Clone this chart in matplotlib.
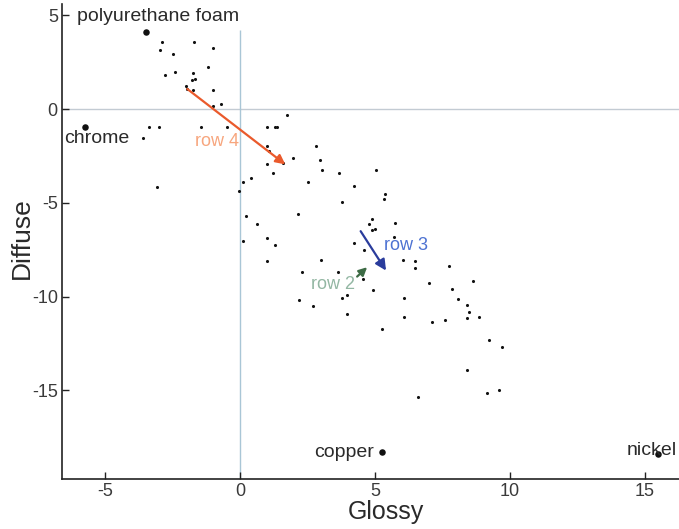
import matplotlib
matplotlib.use("Agg")
import matplotlib.pyplot as plt

plt.rcParams['font.family'] = ['Liberation Sans', 'DejaVu Sans']

# small sample points (Glossy, Diffuse)
glossy = [-2.89, -2.96, -2.49, -1.71, -0.99, -1.20, -2.78, -2.42, -1.73, -1.65,
          -1.79, -2.01, -1.95, -1.75, -0.99, -0.99, -0.69, 1.73, -3.36, -3.01,
          -1.44, -0.47, 0.99, 1.31, 1.39, -3.60, 0.99, 1.06, 2.81, 1.95,
          2.96, 3.05, 3.68, 0.99, 1.58, 1.21, -3.09, 0.10, 0.42, -0.05,
          2.52, 2.15, 0.21, 0.63, 0.10, 0.99, 1.31, 5.04, 4.23, 3.77,
          5.38, 5.33, 0.99, 4.90, 4.79, 4.88, 5.00, 5.74, 5.69, 4.21,
          4.59, 6.04, 6.47, 6.47, 7.73, 8.64, 7.00, 7.85, 8.07, 8.40,
          8.48, 8.42, 8.84, 7.58, 7.12, 6.07, 6.09, 4.93, 4.57, 3.97,
          3.78, 3.01, 3.63, 2.30, 2.19, 2.69, 3.96, 5.26, 9.23, 9.70,
          8.41, 9.15, 9.59, 6.58]
diffuse = [3.55, 3.16, 2.91, 3.59, 3.23, 2.24, 1.81, 1.95, 1.92, 1.62,
           1.53, 1.24, 1.07, 1.03, 1.03, 0.18, 0.25, -0.34, -0.98, -0.98,
           -0.98, -0.98, -0.98, -0.98, -0.98, -1.55, -1.99, -2.26, -1.97, -2.61,
           -2.72, -3.27, -3.43, -2.92, -2.88, -3.43, -4.16, -3.91, -3.70, -4.39,
           -3.88, -5.60, -5.69, -6.12, -7.01, -6.90, -7.22, -3.27, -4.11, -4.98,
           -4.55, -4.78, -8.11, -5.85, -6.13, -6.45, -6.40, -6.10, -6.83, -7.13,
           -7.50, -8.05, -8.09, -8.45, -8.36, -9.19, -9.25, -9.60, -10.12, -10.47,
           -10.83, -11.15, -11.11, -11.25, -11.33, -11.11, -10.05, -9.62, -9.05, -9.92,
           -10.05, -8.07, -8.68, -8.68, -10.17, -10.49, -10.95, -11.72, -12.30, -12.69,
           -13.89, -15.11, -14.95, -15.34]

# named materials
materials = ["polyurethane foam", "chrome", "copper", "nickel"]
mat_glossy = [-3.49, -5.75, 5.27, 15.49]
mat_diffuse = [4.11, -0.94, -18.29, -18.38]

# arrows: (name, start glossy, start diffuse, end glossy, end diffuse)
arrow_names = ["row 4", "row 3", "row 2"]
arrow_x0 = [-1.95, 4.47, 4.34]
arrow_y0 = [1.07, -6.51, -8.93]
arrow_x1 = [1.68, 5.41, 4.71]
arrow_y1 = [-2.95, -8.61, -8.43]

x_ticks = [-5, 0, 5, 10, 15]
y_ticks = [5, 0, -5, -10, -15]

fig = plt.figure(figsize=(6.79, 5.29), dpi=100)
ax = fig.add_axes([62/679, 50/529, 1 - 62/679, 1 - 50/529 - 4/529])
ax.set_xlim(-6.59, 16.26)
ax.set_ylim(-19.72, 5.6)

# reference lines
ax.axhline(0, color='#c3cbd3', lw=1.0, zorder=1)
ax.vlines(0, -19.72, 4.23, color='#a9c6d6', lw=1.0, zorder=1)

ax.scatter(glossy, diffuse, s=5, color='#111111', zorder=3, linewidths=0)
ax.scatter(mat_glossy, mat_diffuse, s=22, color='#111111', zorder=3, linewidths=0)

lab_kw = dict(fontsize=14, color='#2a2a2a')
ax.text(-6.04, 4.94, materials[0], ha='left', va='center', **lab_kw)
ax.text(-6.52, -1.55, materials[1], ha='left', va='center', **lab_kw)
ax.text(4.96, -18.29, materials[2], ha='right', va='center', **lab_kw)
ax.text(14.32, -18.21, materials[3], ha='left', va='center', **lab_kw)

arrow_colors = ['#ea5a2c', '#2a3c9c', '#3d6b45']
text_colors = ['#f7a67e', '#4d72d2', '#93b7a3']
heads = [14, 16, 12]
for i in range(3):
    ax.annotate('', xy=(arrow_x1[i], arrow_y1[i]), xytext=(arrow_x0[i], arrow_y0[i]),
                arrowprops=dict(arrowstyle='-|>', color=arrow_colors[i], lw=1.6,
                                mutation_scale=heads[i], shrinkA=0, shrinkB=0),
                zorder=4)

ax.text(-0.02, -1.73, arrow_names[0], ha='right', va='center', fontsize=13, color=text_colors[0])
ax.text(5.33, -7.27, arrow_names[1], ha='left', va='center', fontsize=13, color=text_colors[1])
ax.text(4.26, -9.33, arrow_names[2], ha='right', va='center', fontsize=13, color=text_colors[2])

for s in ['top', 'right']:
    ax.spines[s].set_visible(False)
for s in ['left', 'bottom']:
    ax.spines[s].set_color('#222222')
    ax.spines[s].set_linewidth(1.2)

ax.set_xticks(x_ticks)
ax.set_yticks(y_ticks)
ax.set_xticklabels([str(v) for v in x_ticks])
ax.set_yticklabels([str(v) for v in y_ticks])
ax.tick_params(direction='in', length=5, width=1, colors='#222222', labelsize=13,
               labelcolor='#3a3a3a', pad=3)

fig.text(386/679, 1 - 512/529, 'Glossy', ha='center', va='center', fontsize=18, color='#2a2a2a')
fig.text(22/679, 1 - 238/529, 'Diffuse', ha='center', va='center', rotation=90, fontsize=19, color='#2a2a2a')

fig.savefig('out.png', dpi=100)
